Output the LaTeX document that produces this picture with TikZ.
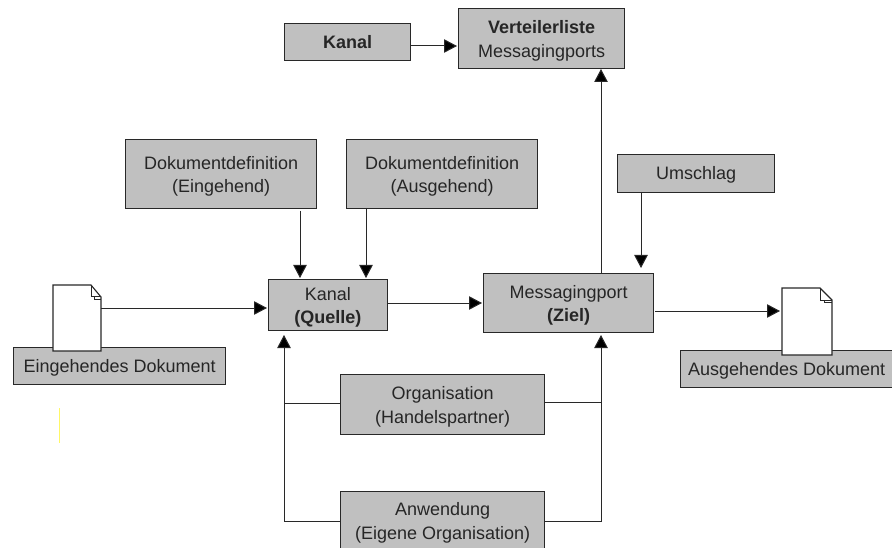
\documentclass[tikz,border=0pt]{standalone}
\usepackage{fontspec}
\setmainfont{Liberation Sans}
\usetikzlibrary{arrows.meta}
\definecolor{boxgray}{RGB}{192,192,192}
\definecolor{inkc}{RGB}{40,40,40}
\newcommand{\lowertwo}[2]{{}\\[-6pt]#1\\#2}
\tikzset{
  gbox/.style={draw=inkc,line width=1.2pt,fill=boxgray,anchor=north west,inner sep=0pt,align=center,text=black!85,font=\fontsize{18}{23.5}\selectfont,minimum width=#1},
  gbox/.default=100pt,
  onel/.style={execute at begin node={\rule{0pt}{16.5pt}}},
  conn/.style={draw=inkc,line width=1pt},
  arr/.style={conn,-{Triangle[length=13pt,width=13.5pt,fill=black]}},
  docpage/.style={draw=inkc,line width=1.1pt,fill=white},
}
\begin{document}
\begin{tikzpicture}[x=1pt,y=-1pt]
\useasboundingbox (0,0) rectangle (892,548);
\fill[white] (0,0) rectangle (892,548);
% boxes
\node[gbox=212pt,onel,minimum height=37pt] (ein) at (13,347) {Eingehendes Dokument};
\node[gbox=212pt,onel,minimum height=37pt] (aus) at (680,350) {Ausgehendes Dokument};
\node[gbox=118.5pt,minimum height=51pt] (quelle) at (268,279) {\lowertwo{Kanal}{\textbf{(Quelle)}}};
\node[gbox=170pt,minimum height=59pt] (ziel) at (483,273) {\lowertwo{Messagingport}{\textbf{(Ziel)}}};
\node[gbox=126pt,minimum height=37pt] (kanal) at (284,23) {\textbf{Kanal}};
\node[gbox=166pt,minimum height=60pt] (vert) at (458,8) {\lowertwo{\textbf{Verteilerliste}}{Messagingports}};
\node[gbox=191pt,minimum height=69pt] (dd1) at (125,139) {\lowertwo{Dokumentdefinition}{(Eingehend)}};
\node[gbox=191pt,minimum height=69pt] (dd2) at (346,139) {\lowertwo{Dokumentdefinition}{(Ausgehend)}};
\node[gbox=157pt,onel,minimum height=38pt] (um) at (617,154) {Umschlag};
\node[gbox=204pt,minimum height=60pt] (org) at (340,374) {\lowertwo{Organisation}{(Handelspartner)}};
\node[gbox=204pt,minimum height=58pt] (anw) at (340,491) {\lowertwo{Anwendung}{(Eigene Organisation)}};
% documents
\draw[docpage] (53,285) -- (91,285) -- (101,297) -- (101,351) -- (53,351) -- cycle;
\draw[conn,line width=1pt] (91,285) -- (91,297) -- (101,297) (94,297) -- (94,299.5) -- (101,299.5);
\coordinate (d1) at (101,308);
\draw[docpage] (782,288) -- (820,288) -- (832,300) -- (832,355) -- (782,355) -- cycle;
\draw[conn,line width=1pt] (820,288) -- (820,300) -- (832,300) (824,300) -- (824,302.5) -- (832,302.5);
\coordinate (d2) at (780,311);
% connectors
\coordinate (q1) at (267,308);
\draw[arr] (d1) -- (q1);
\draw[arr] (388,303) coordinate (q2) -- (482,303) coordinate (z1);
\draw[arr] (655,311) coordinate (z2) -- (d2);
\draw[arr] (410,46) coordinate (k1) -- (457,46) coordinate (v1);
\draw[arr] (601,273) coordinate (z3) -- (601,69) coordinate (v2);
\draw[arr] (300,211) coordinate (a1) -- (300,278) coordinate (a2);
\draw[arr] (366,208) coordinate (b1) -- (366,278) coordinate (b2);
\draw[arr] (641,192) coordinate (c1) -- (641,268) coordinate (c2);
\coordinate (lt) at (284,335);
\coordinate (rt) at (601,335);
\draw[arr] (340,521) coordinate (al) -- (284,521) -- (lt);
\draw[arr] (544,521) coordinate (ar) -- (601,521) -- (rt);
\draw[conn] (340,403) coordinate (ol) -- (284,403);
\draw[conn] (544,402) coordinate (or) -- (601,402);
% stray mark
\draw[yellow!60,line width=0.7pt] (59,408) -- (59,443);
\end{tikzpicture}
\end{document}
